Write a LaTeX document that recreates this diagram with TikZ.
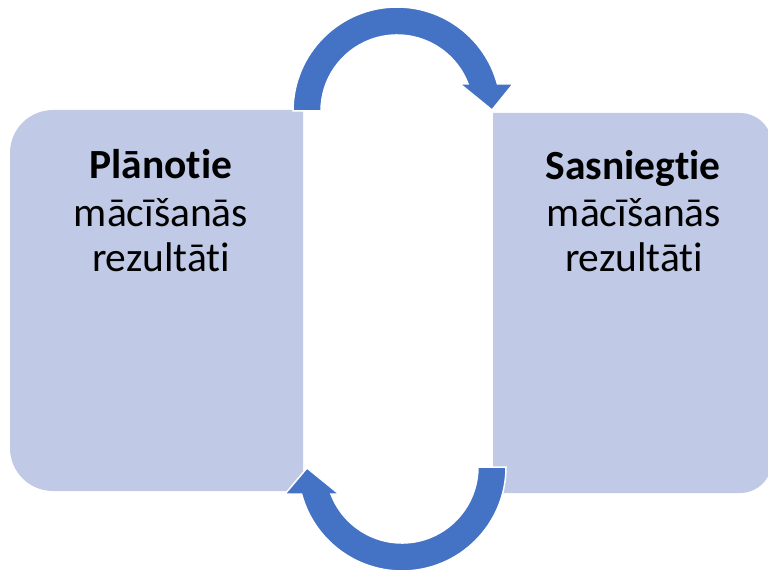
\documentclass[tikz,border=0pt]{standalone}
\usepackage{fontspec}
\setmainfont{Carlito}[RawFeature={-liga;-clig;-dlig}]
\definecolor{boxfill}{RGB}{192,201,229}
\definecolor{arrowblue}{RGB}{68,114,196}
\tikzset{
  boxshape/.style={fill=boxfill, draw=none},
  cyclearrow/.style={fill=arrowblue, draw=white, line width=1.5pt, line join=miter},
  label/.style={anchor=base, inner sep=0pt, font=\fontsize{41.5}{48}\selectfont},
  boldlabel/.style={label, font=\fontsize{41.5}{48}\selectfont\bfseries}
}
\begin{document}
\begin{tikzpicture}[x=1pt,y=1pt]
\useasboundingbox (0,0) rectangle (768,571);
\clip (0,0) rectangle (768,571);
% left box (rounded left corners)
\path[boxshape] (303,461) -- (53,461) arc[start angle=90, end angle=180, radius=43]
  -- (10,123) arc[start angle=180, end angle=270, radius=43] -- (303,80) -- cycle;
% right box (rounded right corners)
\path[boxshape] (493,458) -- (740,458) arc[start angle=90, end angle=0, radius=32]
  -- (772,110) arc[start angle=0, end angle=-90, radius=32] -- (493,78) -- cycle;
% texts
\node[boldlabel] (l1) at (161,392) {Plānotie};
\node[label] (l2) at (161,344) {mācīšanās};
\node[label] (l3) at (161,299) {rezultāti};
\node[boldlabel] (r1) at (633,391) {Sasniegtie};
\node[label] (r2) at (634,344) {mācīšanās};
\node[label] (r3) at (634,299) {rezultāti};
% top circular arrow
\path[cyclearrow] (293,460) arc[start angle=180, end angle=15.05, radius=104]
  -- (513,487) -- (492,461) -- (460,487) -- (468.05,487)
  arc[start angle=20.81, end angle=180, radius=76] -- cycle;
% bottom circular arrow
\path[cyclearrow] (506,104) arc[start angle=0, end angle=-164.95, radius=104]
  -- (285,77) -- (307,103) -- (339,77) -- (330.95,77)
  arc[start angle=-159.19, end angle=0, radius=76] -- cycle;
\end{tikzpicture}
\end{document}
